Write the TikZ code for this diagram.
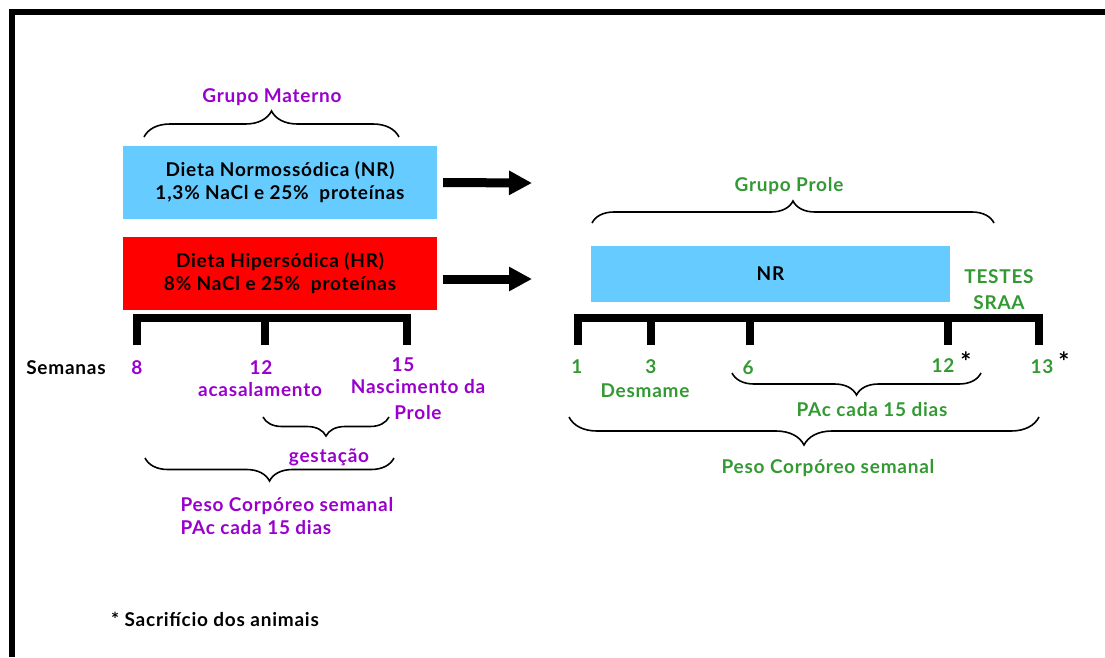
\documentclass[tikz,border=0pt]{standalone}
\usepackage{fontspec}
\setmainfont{Lato}[LetterSpace=4]
\usetikzlibrary{calc,arrows.meta,decorations.pathreplacing}
\definecolor{roxo}{HTML}{9900CC}
\definecolor{verde}{HTML}{339933}
\definecolor{azulNR}{HTML}{66CCFF}
\definecolor{vermHR}{HTML}{FF0000}

\begin{document}
\begin{tikzpicture}[x=1pt, y=-1pt, font=\bfseries\fontsize{19}{23}\selectfont,
    dieta/.style = {minimum width=314pt, minimum height=73pt, inner sep=0pt, align=center},
    mae/.style = {text=roxo},
    filho/.style = {text=verde},
    asterisco/.style = {font=\bfseries\fontsize{26}{26}\selectfont},
    chave/.style = {decorate, decoration={brace, amplitude=#1}, line width=1.6pt},
    seta/.style = {line width=9pt, -{Triangle[length=23pt, width=23pt]}},
    regua/.style = {line width=8pt}]
    \useasboundingbox (0,0) rectangle (1105,657);
    \draw[line width=6pt] (11.5,657) -- (11.5,11.5) -- (1105,11.5);

    \node[dieta, fill=azulNR] (normo) at (280,182.5) {Dieta Normossódica (NR)\\1,3\% NaCl e 25\%\ \ proteínas};
    \node[dieta, fill=vermHR] (hiper) at (280,273) {Dieta Hipersódica (HR)\\8\% NaCl e 25\%\ \ proteínas};
    \node[mae] (grupomae) at (272,97) {Grupo Materno};
    \coordinate (fim1) at (532,183);
    \coordinate (fim2) at (532,279);
    \draw[seta] ([xshift=6pt]normo.east) -- (fim1);
    \draw[seta] ($(hiper.east |- fim2)+(6,0)$) -- (fim2);

    \node[dieta, fill=azulNR, minimum width=359pt, minimum height=56pt] (nrprole) at (770.5,274) {NR};
    \node[filho] (grupoprole) at (789,186) {Grupo Prole};
    \node[filho, align=center, font=\bfseries\fontsize{19}{26}\selectfont] (testes) at (999,290) {TESTES\\SRAA};

    \draw[chave=26] (144,137) -- (399,137);
    \draw[chave=22] (592,223) -- (994,223);
    \draw[chave=19] (389,417) -- (263,417);
    \draw[chave=23] (394,458) -- (145,458);
    \draw[chave=22] (981,373) -- (732,373);
    \draw[chave=28] (1039,417) -- (569,417);

    \draw[regua] (137,345) -- (137,318) -- (407,318) -- (407,345);
    \draw[regua] (265,318) -- (265,345);
    \draw[regua] (578,345) -- (578,318) -- (1039,318) -- (1039,345);
    \draw[regua] (651,318) -- (651,345);
    \draw[regua] (750,318) -- (750,345);
    \draw[regua] (948,318) -- (948,345);

    \node (semanas) at (66,368) {Semanas};
    \node[mae] (s8) at (137,368) {8};
    \node[mae] (s12) at (261,368) {12};
    \node[mae] (s15) at (403,365) {15};
    \node[mae] (acasal) at (260,390) {acasalamento};
    \node[mae, align=center, font=\bfseries\fontsize{19}{26}\selectfont] (nasc) at (418,400) {Nascimento da\\Prole};
    \node[mae] (gestacao) at (329,457) {gestação};
    \node[mae, anchor=west, align=left] (pesomae) at (177,516.5) {Peso Corpóreo semanal\\PAc cada 15 dias};

    \node[filho] (p1) at (577,367) {1};
    \node[filho] (p3) at (651,367) {3};
    \node[filho] (p6) at (748,368) {6};
    \node[filho] (p12) at (943,366) {12};
    \node[filho] (p13) at (1042,367) {13};
    \node[asterisco] (ast12) at (966,362) {*};
    \node[asterisco] (ast13) at (1064,362) {*};
    \node[filho] (desmame) at (645,391) {Desmame};
    \node[filho] (pacprole) at (872,410) {PAc cada 15 dias};
    \node[filho] (pesoprole) at (828,468) {Peso Corpóreo semanal};

    \node (legenda) at (215,619) {* Sacrifício dos animais};
\end{tikzpicture}
\end{document}
